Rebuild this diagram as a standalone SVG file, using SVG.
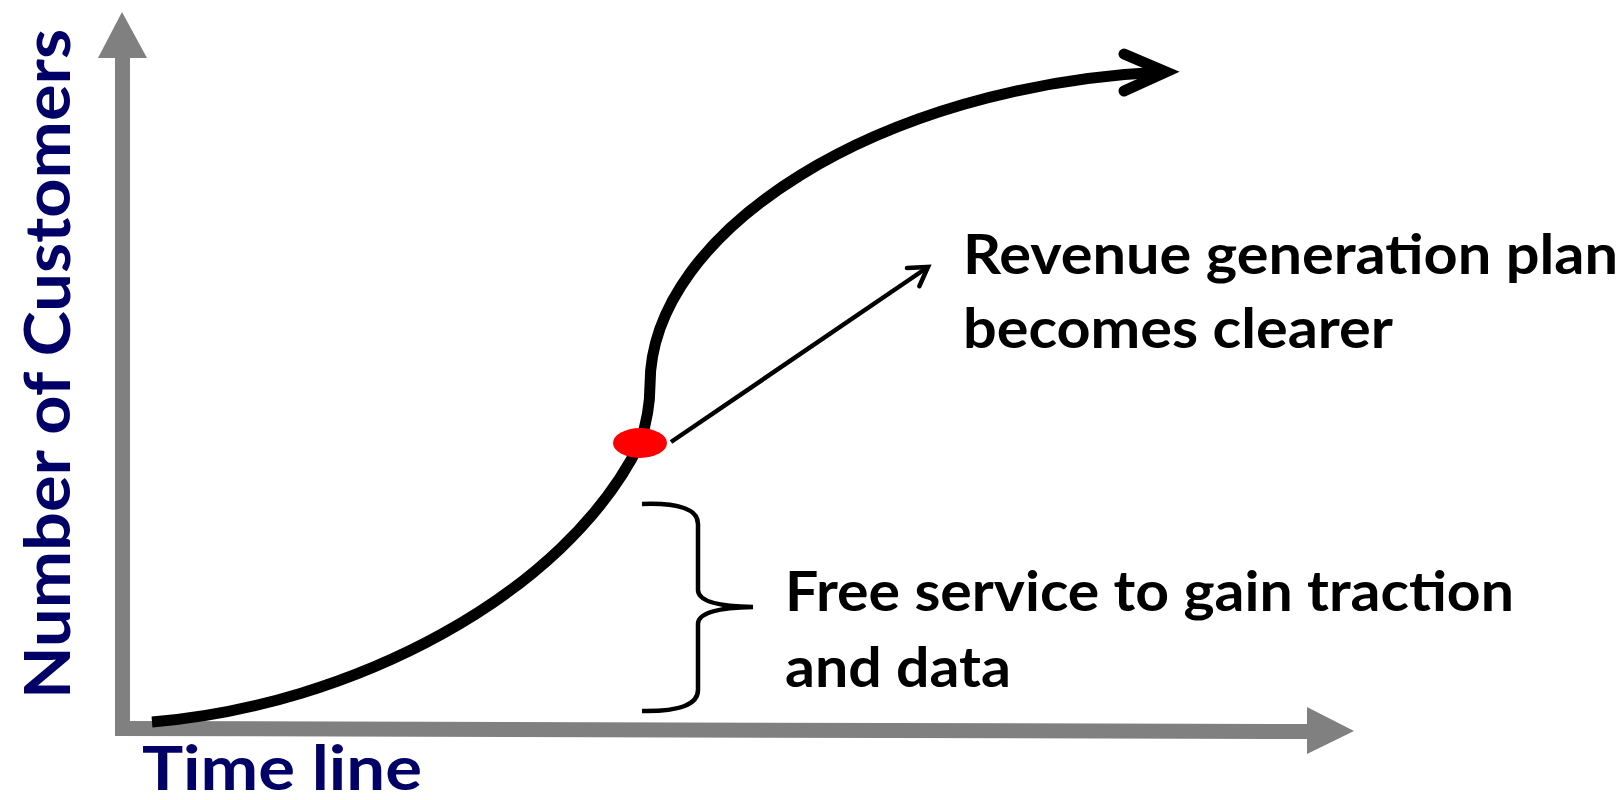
<svg xmlns="http://www.w3.org/2000/svg" width="1624" height="800" viewBox="0 0 1624 800">
  <style>
    .lbl { font-family: Lato, "Liberation Sans", sans-serif; font-weight: bold; fill: #000000; }
    .axislbl { font-family: Lato, "Liberation Sans", sans-serif; font-weight: bold; fill: #000066; }
    .axis { fill: #808080; }
    .curve { fill: none; stroke: #000000; stroke-width: 11; }
    .thin { fill: none; stroke: #000000; stroke-width: 4.5; }
  </style>
  <defs>
    <marker id="openArrow" markerUnits="userSpaceOnUse" markerWidth="40" markerHeight="40" refX="20" refY="20" orient="auto" overflow="visible">
      <path d="M2,9 L20,20 L2,31" fill="none" stroke="#000000" stroke-width="4.5" stroke-linecap="round" stroke-linejoin="miter"/>
    </marker>
  </defs>
  <rect width="1624" height="800" fill="#ffffff"/>

  <g id="y-axis">
    <rect class="axis" x="115" y="56" width="15" height="680"/>
    <polygon class="axis" points="98,58 122,12 147,58"/>
  </g>
  <g id="x-axis">
    <polygon class="axis" points="115,721 1307,724 1307,707 1354,731 1307,754 1307,739 115,736"/>
  </g>

  <g id="y-axis-label">
    <text class="axislbl" transform="translate(70,699) rotate(-90)" x="0" y="0" font-size="64" textLength="670" lengthAdjust="spacingAndGlyphs">Number of Customers</text>
  </g>
  <g id="x-axis-label">
    <text class="axislbl" x="142" y="790" font-size="62" textLength="280" lengthAdjust="spacingAndGlyphs">Time line</text>
  </g>

  <g id="connectors">
    <path id="growth-curve" class="curve" d="M152,722 C350,706 565,596 640,443 C647,422 650,405 650,385 C650,230 880,85 1162,72"/>
    <polyline points="1124,54 1166,72 1124,91" fill="none" stroke="#000000" stroke-width="11" stroke-linecap="round" stroke-linejoin="miter"/>
    <line class="thin" x1="671" y1="442" x2="928" y2="267" marker-end="url(#openArrow)"/>
    <path id="brace" class="thin" d="M642,504 Q698,502 698,524 L698,590 Q698,606 753,607 Q698,608 698,624 L698,690 Q698,712 642,711"/>
  </g>

  <g id="milestone">
    <ellipse cx="640" cy="443" rx="27" ry="15" fill="#ff0000"/>
  </g>

  <g id="revenue-label">
    <text class="lbl" x="963" y="274" font-size="56" textLength="655" lengthAdjust="spacingAndGlyphs">Revenue generation plan</text>
    <text class="lbl" x="963" y="348" font-size="56" textLength="430" lengthAdjust="spacingAndGlyphs">becomes clearer</text>
  </g>
  <g id="free-label">
    <text class="lbl" x="785" y="611" font-size="56" textLength="729" lengthAdjust="spacingAndGlyphs">Free service to gain traction</text>
    <text class="lbl" x="785" y="687" font-size="56" textLength="226" lengthAdjust="spacingAndGlyphs">and data</text>
  </g>
</svg>
